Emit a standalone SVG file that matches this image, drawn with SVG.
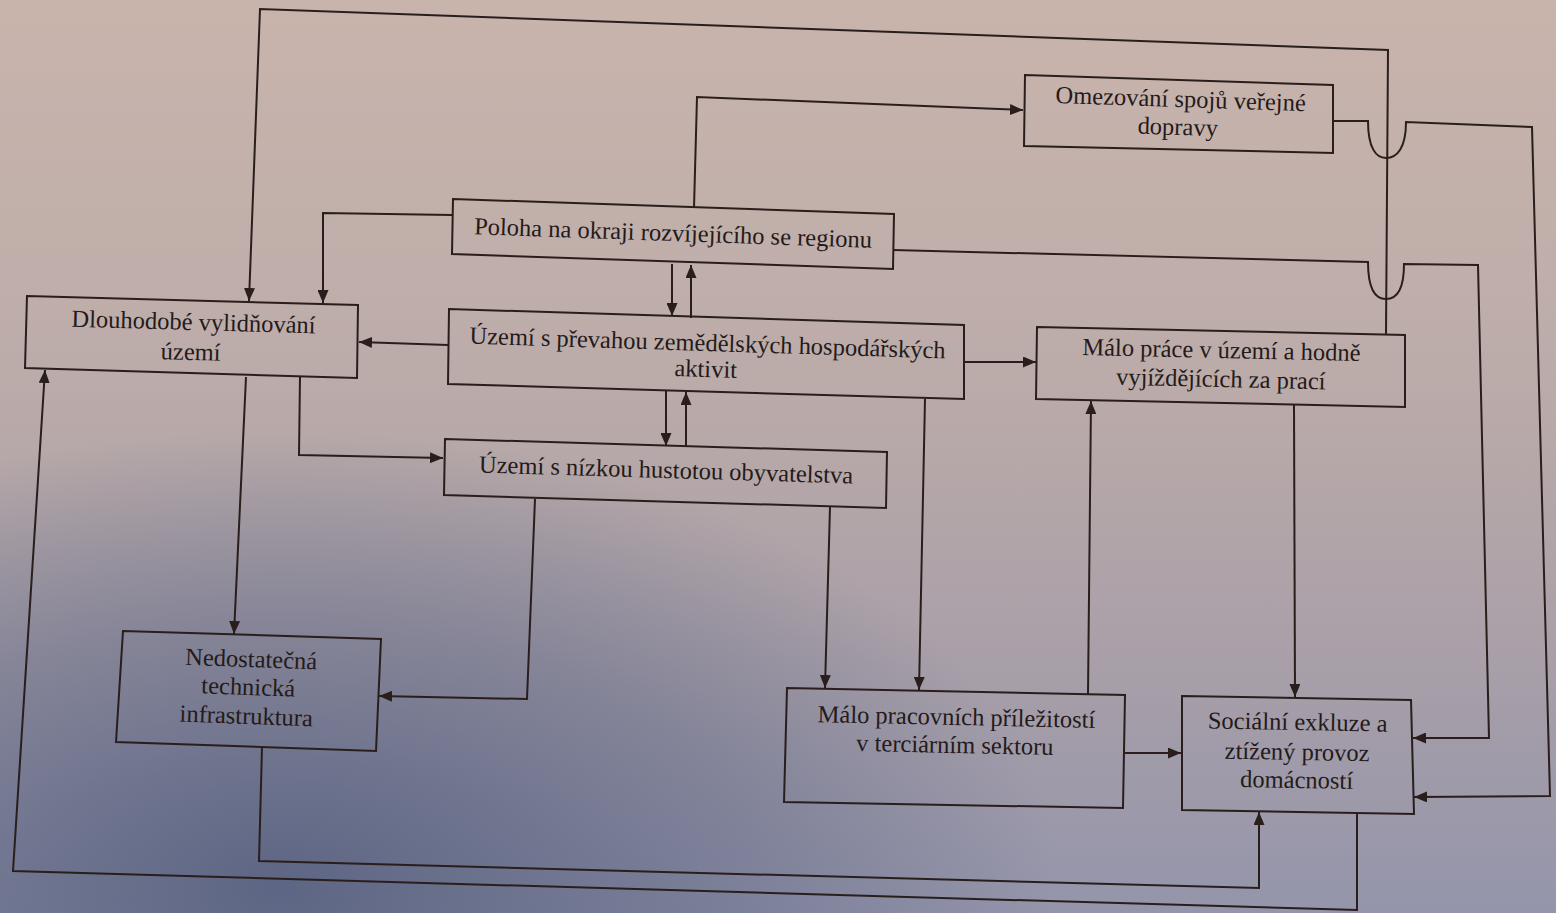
<svg xmlns="http://www.w3.org/2000/svg" width="1556" height="913" viewBox="0 0 1556 913">
<defs>
<linearGradient id="bg" x1="0" y1="0" x2="0" y2="1">
<stop offset="0" stop-color="#c9b4ac"/>
<stop offset="0.4" stop-color="#bcaca9"/>
<stop offset="0.7" stop-color="#aaa0a8"/>
<stop offset="1" stop-color="#9495ab"/>
</linearGradient>
<radialGradient id="bl" cx="0.18" cy="0.97" r="0.5">
<stop offset="0" stop-color="#56607f" stop-opacity="0.9"/>
<stop offset="0.6" stop-color="#5d6684" stop-opacity="0.45"/>
<stop offset="1" stop-color="#5d6684" stop-opacity="0"/>
</radialGradient>
<marker id="ah" viewBox="0 0 13 11" refX="13" refY="5.5" markerWidth="13" markerHeight="11" markerUnits="userSpaceOnUse" orient="auto"><path d="M0,0 L13,5.5 L0,11 z" fill="#2a1e1d"/></marker>
</defs>
<style>
.box{fill:none;stroke:#2a1e1d;stroke-width:2}
.c{fill:none;stroke:#2a1e1d;stroke-width:2}
.a{marker-end:url(#ah)}
text{font-family:"Liberation Serif","Times New Roman",serif;font-size:24.5px;fill:#241a19;text-anchor:middle}
</style>
<rect width="1556" height="913" fill="url(#bg)"/>
<rect width="1556" height="913" fill="url(#bl)"/>

<g id="connectors">
<path class="c a" d="M1386,335 L1388,50 L260,9 L249,301"/>
<path class="c a" d="M694,208 L697,97 L1023,110"/>
<path class="c a" d="M1333,121 L1368,121 C1368,148 1376,158 1386,158 C1397,158 1406,148 1406,122 L1532,127 L1550,796 L1414,797"/>
<path class="c a" d="M893,250 L1368,262 C1368,290 1376,299 1386,299 C1397,299 1404,290 1404,264 L1478,265 L1489,738 L1413,738"/>
<path class="c a" d="M452,215 L323,213 L323,303"/>
<path class="c a" d="M672,264 L672,316"/>
<path class="c a" d="M691,318 L691,265"/>
<path class="c a" d="M448,345 L359,342"/>
<path class="c a" d="M964,362 L1036,362"/>
<path class="c a" d="M666,391 L666,446"/>
<path class="c a" d="M686,447 L686,392"/>
<path class="c a" d="M925,399 L919,690"/>
<path class="c a" d="M246,377 L234,634"/>
<path class="c a" d="M300,377 L299,455 L443,458"/>
<path class="c a" d="M535,499 L527,699 L379,696"/>
<path class="c a" d="M830,507 L825,688"/>
<path class="c a" d="M1125,753 L1181,753"/>
<path class="c a" d="M1088,694 L1091,401"/>
<path class="c a" d="M1294,405 L1295,697"/>
<path class="c a" d="M262,747 L259,861 L1259,888 L1259,812"/>
<path class="c a" d="M1357,813 L1357,910 L13,871 L45,370"/>
</g>

<g id="omezovani">
<polygon class="box" points="1025,75 1333,85 1333,153 1024,146"/>
<g transform="rotate(1.86 1180 120)">
<text x="1180" y="107" font-family="Liberation Serif, serif">Omezování spojů veřejné</text>
<text x="1178" y="135" font-family="Liberation Serif, serif">dopravy</text>
</g>
</g>

<g id="poloha">
<polygon class="box" points="453,199 894,214 893,269 452,254"/>
<text x="673" y="241" font-family="Liberation Serif, serif" transform="rotate(1.95 673 235)">Poloha na okraji rozvíjejícího se regionu</text>
</g>

<g id="vylidnovani">
<polygon class="box" points="27,296 358,305 357,378 25,368"/>
<g transform="rotate(1.56 192 342)">
<text x="193" y="330" font-family="Liberation Serif, serif">Dlouhodobé vylidňování</text>
<text x="191" y="360" font-family="Liberation Serif, serif">území</text>
</g>
</g>

<g id="zemedelske">
<polygon class="box" points="449,309 964,325 964,399 448,384"/>
<g transform="rotate(1.78 707 360)">
<text x="707" y="351" font-family="Liberation Serif, serif">Území s převahou zemědělských hospodářských</text>
<text x="706" y="377" font-family="Liberation Serif, serif">aktivit</text>
</g>
</g>

<g id="hustota">
<polygon class="box" points="445,439 887,452 886,508 444,495"/>
<text x="666" y="478" font-family="Liberation Serif, serif" transform="rotate(1.68 666 471)">Území s nízkou hustotou obyvatelstva</text>
</g>

<g id="malo-prace">
<polygon class="box" points="1037,327 1405,335 1405,407 1036,399"/>
<g transform="rotate(1.25 1221 370)">
<text x="1221" y="358" font-family="Liberation Serif, serif">Málo práce v území a hodně</text>
<text x="1221" y="387" font-family="Liberation Serif, serif">vyjíždějících za prací</text>
</g>
</g>

<g id="infrastruktura">
<polygon class="box" points="123,631 381,639 376,751 116,742"/>
<g transform="rotate(2.0 248 695)">
<text x="250" y="667" font-family="Liberation Serif, serif">Nedostatečná</text>
<text x="248" y="695" font-family="Liberation Serif, serif">technická</text>
<text x="247" y="724" font-family="Liberation Serif, serif">infrastruktura</text>
</g>
</g>

<g id="terciar">
<polygon class="box" points="787,688 1125,695 1123,808 784,802"/>
<g transform="rotate(1.19 955 740)">
<text x="956" y="725" font-family="Liberation Serif, serif">Málo pracovních příležitostí</text>
<text x="955" y="753" font-family="Liberation Serif, serif">v terciárním sektoru</text>
</g>
</g>

<g id="exkluze">
<polygon class="box" points="1182,696 1411,700 1414,814 1182,810"/>
<g transform="rotate(1.0 1297 760)">
<text x="1297" y="730" font-family="Liberation Serif, serif">Sociální exkluze a</text>
<text x="1297" y="760" font-family="Liberation Serif, serif">ztížený provoz</text>
<text x="1297" y="788" font-family="Liberation Serif, serif">domácností</text>
</g>
</g>
</svg>
